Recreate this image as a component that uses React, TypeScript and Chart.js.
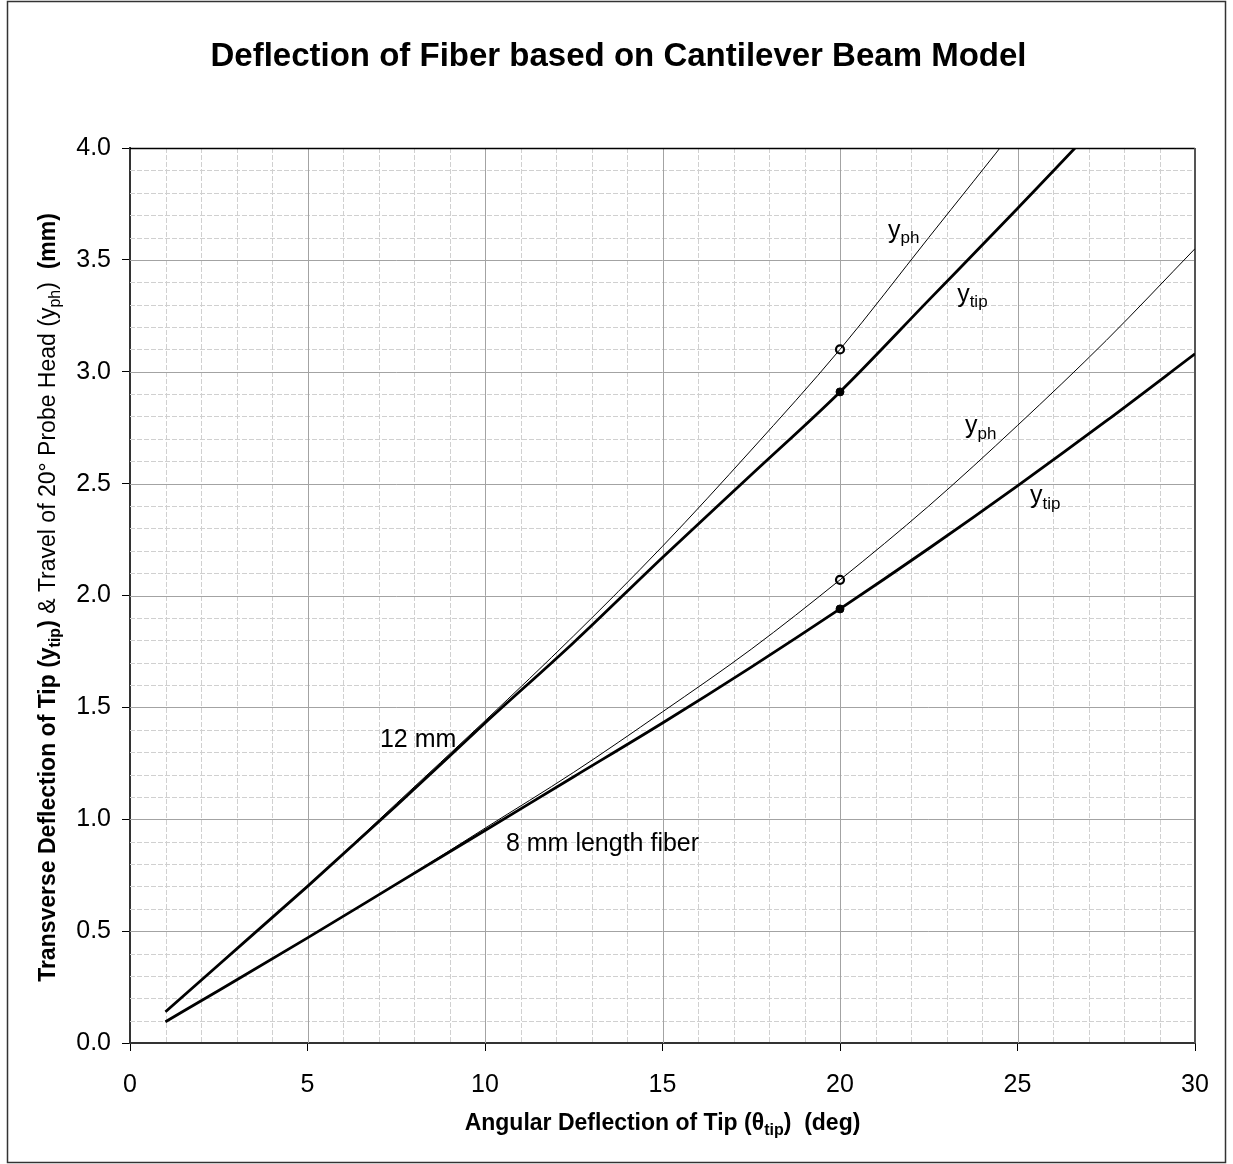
import React, { useEffect, useRef } from "react";
import { Chart, registerables } from "chart.js";

Chart.register(...registerables);

// ---------- data ----------
const angles = [1, 2.5, 5, 7.5, 10, 12.5, 15, 17.5, 20, 22.5, 25, 27.5, 30];
const tip12 = [0.14, 0.35, 0.7, 1.06, 1.43, 1.79, 2.17, 2.54, 2.91, 3.32, 3.73, 4.15, 4.6];
const ph12 = [0.14, 0.35, 0.7, 1.07, 1.44, 1.82, 2.22, 2.65, 3.1, 3.6, 4.1, 4.62, 5.15];
const tip8 = [0.095, 0.235, 0.47, 0.71, 0.95, 1.19, 1.43, 1.68, 1.94, 2.21, 2.49, 2.78, 3.08];
const ph8 = [0.095, 0.235, 0.47, 0.71, 0.96, 1.21, 1.48, 1.76, 2.07, 2.4, 2.76, 3.14, 3.55];

const markerAngle = 20;
const markerTip12 = 2.91;
const markerPh12 = 3.1;
const markerTip8 = 1.94;
const markerPh8 = 2.07;

const xMin = 0;
const xMax = 30;
const xMajor = 5;
const xMinor = 1;
const yMin = 0;
const yMax = 4;
const yMajor = 0.5;
const yMinor = 0.1;

const chartTitle = "Deflection of Fiber based on Cantilever Beam Model";

type Seg = { t: string; b?: boolean; sub?: boolean };

const xTitle: Seg[] = [
  { t: "Angular Deflection of Tip (θ", b: true },
  { t: "tip", b: true, sub: true },
  { t: ")  (deg)", b: true },
];
const yTitle: Seg[] = [
  { t: "Transverse Deflection of Tip (y", b: true },
  { t: "tip", b: true, sub: true },
  { t: ") ", b: true },
  { t: "& Travel of 20° Probe Head (y" },
  { t: "ph", sub: true },
  { t: ") " },
  { t: " (mm)", b: true },
];

const annoMain = ["12 mm", "8 mm length fiber", "y", "y", "y", "y"];
const annoSub = ["", "", "ph", "tip", "ph", "tip"];
const annoX = [7.04, 10.59, 21.35, 23.3, 23.52, 25.35];
const annoY = [1.325, 0.859, 3.599, 3.313, 2.726, 2.413];

const FONT = '"Liberation Sans", Arial, Helvetica, sans-serif';

function pts(xs: number[], ys: number[]) {
  return xs.map((x, i) => ({ x, y: ys[i] }));
}

function richWidth(ctx: CanvasRenderingContext2D, segs: Seg[], size: number) {
  let w = 0;
  for (const s of segs) {
    ctx.font = `${s.b ? "bold " : ""}${s.sub ? Math.round(size * 0.68) : size}px ${FONT}`;
    w += ctx.measureText(s.t).width;
  }
  return w;
}

function drawRich(
  ctx: CanvasRenderingContext2D,
  segs: Seg[],
  x: number,
  baseline: number,
  size: number,
  align: "center" | "left"
) {
  const w = richWidth(ctx, segs, size);
  let cx = align === "center" ? x - w / 2 : x;
  ctx.textAlign = "left";
  ctx.textBaseline = "alphabetic";
  ctx.fillStyle = "#000";
  for (const s of segs) {
    ctx.font = `${s.b ? "bold " : ""}${s.sub ? Math.round(size * 0.68) : size}px ${FONT}`;
    ctx.fillText(s.t, cx, baseline + (s.sub ? size * 0.22 : 0));
    cx += ctx.measureText(s.t).width;
  }
}

const decorPlugin = {
  id: "decor",
  beforeDraw(chart: any) {
    const { ctx, width, height } = chart;
    ctx.save();
    ctx.fillStyle = "#fff";
    ctx.fillRect(0, 0, width, height);
    ctx.strokeStyle = "#333";
    ctx.lineWidth = 1.5;
    ctx.strokeRect(7.5, 1.5, width - 15, height - 3);
    ctx.restore();
  },
  beforeDatasetsDraw(chart: any) {
    const { ctx, chartArea: a, scales } = chart;
    const xs = scales.x;
    const ys = scales.y;
    const line = (x1: number, y1: number, x2: number, y2: number) => {
      ctx.beginPath();
      ctx.moveTo(x1, y1);
      ctx.lineTo(x2, y2);
      ctx.stroke();
    };
    ctx.save();
    ctx.lineWidth = 1;
    // minor dashed grid
    ctx.strokeStyle = "#d0d0d0";
    ctx.setLineDash([5, 2]);
    const nx = Math.round((xMax - xMin) / xMinor);
    for (let i = 1; i < nx; i++) {
      const v = xMin + i * xMinor;
      if (Math.abs(v / xMajor - Math.round(v / xMajor)) < 1e-6) continue;
      const p = Math.round(xs.getPixelForValue(v)) + 0.5;
      line(p, a.top, p, a.bottom);
    }
    const ny = Math.round((yMax - yMin) / yMinor);
    for (let j = 1; j < ny; j++) {
      const v = yMin + j * yMinor;
      if (Math.abs(v / yMajor - Math.round(v / yMajor)) < 1e-6) continue;
      const p = Math.round(ys.getPixelForValue(v)) + 0.5;
      line(a.left, p, a.right, p);
    }
    // major solid grid
    ctx.setLineDash([]);
    ctx.strokeStyle = "#a3a3a3";
    for (let v = xMin + xMajor; v < xMax - 1e-6; v += xMajor) {
      const p = Math.round(xs.getPixelForValue(v)) + 0.5;
      line(p, a.top, p, a.bottom);
    }
    for (let v = yMin + yMajor; v < yMax - 1e-6; v += yMajor) {
      const p = Math.round(ys.getPixelForValue(v)) + 0.5;
      line(a.left, p, a.right, p);
    }
    // frame top & right
    ctx.strokeStyle = "#000";
    ctx.lineWidth = 1.5;
    line(a.left, a.top + 0.5, a.right, a.top + 0.5);
    ctx.strokeStyle = "#555";
    ctx.lineWidth = 2;
    line(a.right, a.top, a.right, a.bottom);
    ctx.restore();
  },
  afterDraw(chart: any) {
    const { ctx, chartArea: a, scales, width } = chart;
    ctx.save();
    // title
    ctx.fillStyle = "#000";
    ctx.font = `bold 33px ${FONT}`;
    ctx.textAlign = "center";
    ctx.textBaseline = "alphabetic";
    ctx.fillText(chartTitle, width / 2 + 2, 66);
    // x title
    drawRich(ctx, xTitle, (a.left + a.right) / 2, 1130, 23, "center");
    // y title
    ctx.save();
    ctx.translate(55, (a.top + a.bottom) / 2 + 2);
    ctx.rotate(-Math.PI / 2);
    drawRich(ctx, yTitle, 0, 0, 23, "center");
    ctx.restore();
    // annotations
    for (let i = 0; i < annoMain.length; i++) {
      const px = scales.x.getPixelForValue(annoX[i]);
      const py = scales.y.getPixelForValue(annoY[i]);
      const segs: Seg[] = [{ t: annoMain[i] }];
      if (annoSub[i]) segs.push({ t: annoSub[i], sub: true });
      drawRich(ctx, segs, px, py, 25, "left");
    }
    ctx.restore();
  },
};

export default function App() {
  const ref = useRef<HTMLCanvasElement | null>(null);
  useEffect(() => {
    if (!ref.current) return;
    const thick = { borderColor: "#000", borderWidth: 2.8, pointRadius: 0, showLine: true, cubicInterpolationMode: "monotone" as const, fill: false };
    const thin = { borderColor: "#000", borderWidth: 1, pointRadius: 0, showLine: true, cubicInterpolationMode: "monotone" as const, fill: false };
    const chart = new Chart(ref.current, {
      type: "scatter",
      data: {
        datasets: [
          { label: "y_ph 12 mm", data: pts(angles, ph12), ...thin },
          { label: "y_tip 12 mm", data: pts(angles, tip12), ...thick },
          { label: "y_ph 8 mm", data: pts(angles, ph8), ...thin },
          { label: "y_tip 8 mm", data: pts(angles, tip8), ...thick },
          { label: "ph12 point", data: [{ x: markerAngle, y: markerPh12 }], pointRadius: 4, pointBorderWidth: 2.2, pointBackgroundColor: "#fff", pointBorderColor: "#000", showLine: false },
          { label: "tip12 point", data: [{ x: markerAngle, y: markerTip12 }], pointRadius: 4, pointBorderWidth: 1, pointBackgroundColor: "#000", pointBorderColor: "#000", showLine: false },
          { label: "ph8 point", data: [{ x: markerAngle, y: markerPh8 }], pointRadius: 4, pointBorderWidth: 2.2, pointBackgroundColor: "#fff", pointBorderColor: "#000", showLine: false },
          { label: "tip8 point", data: [{ x: markerAngle, y: markerTip8 }], pointRadius: 4, pointBorderWidth: 1, pointBackgroundColor: "#000", pointBorderColor: "#000", showLine: false },
        ],
      },
      options: {
        responsive: false,
        animation: false,
        devicePixelRatio: 1,
        layout: { padding: { top: 148, left: 0, right: 38, bottom: 0 } },
        plugins: { legend: { display: false }, tooltip: { enabled: false }, title: { display: false } },
        scales: {
          x: {
            type: "linear",
            min: xMin,
            max: xMax,
            afterFit: (s: any) => { s.height = 121; },
            afterBuildTicks: (s: any) => {
              const t = [];
              for (let v = xMin; v <= xMax + 1e-6; v += xMajor) t.push({ value: v });
              s.ticks = t;
            },
            ticks: { stepSize: xMajor, color: "#000", font: { family: FONT, size: 25 }, padding: 19, maxRotation: 0, callback: (v: any) => String(v) },
            grid: { drawOnChartArea: false, drawTicks: true, tickLength: 8, tickColor: "#000", tickWidth: 1 },
            border: { display: true, color: "#333", width: 2 },
          },
          y: {
            type: "linear",
            min: yMin,
            max: yMax,
            afterFit: (s: any) => { s.width = 130; },
            afterBuildTicks: (s: any) => {
              const t = [];
              for (let v = yMin; v <= yMax + 1e-6; v += yMajor) t.push({ value: Math.round(v * 10) / 10 });
              s.ticks = t;
            },
            ticks: { stepSize: yMajor, color: "#000", font: { family: FONT, size: 25 }, padding: 11, callback: (v: any) => Number(v).toFixed(1) },
            grid: { drawOnChartArea: false, drawTicks: true, tickLength: 8, tickColor: "#000", tickWidth: 1 },
            border: { display: true, color: "#333", width: 2 },
          },
        },
      },
      plugins: [decorPlugin],
    });
    return () => chart.destroy();
  }, []);
  return (
    <div style={{ position: "absolute", left: 0, top: 0 }}>
      <canvas ref={ref} width={1233} height={1164} style={{ display: "block", width: 1233, height: 1164 }} />
    </div>
  );
}
